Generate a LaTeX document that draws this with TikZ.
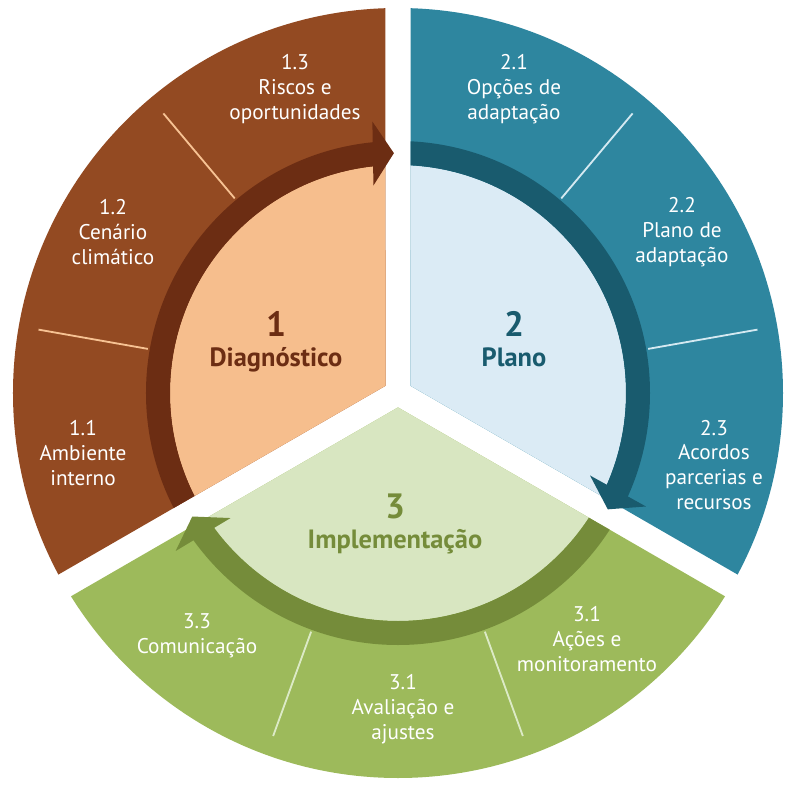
\documentclass[tikz,border=0pt]{standalone}
\usepackage{fontspec}
\setmainfont{PT Sans}
\usetikzlibrary{calc}

\definecolor{brownout}{HTML}{934A22}
\definecolor{brownband}{HTML}{6C2D13}
\definecolor{brownin}{HTML}{F6BE8D}
\definecolor{brownline}{HTML}{F7C293}
\definecolor{tealout}{HTML}{2E869F}
\definecolor{tealband}{HTML}{195B6E}
\definecolor{tealin}{HTML}{DBEBF5}
\definecolor{tealline}{HTML}{D4E9F1}
\definecolor{greenout}{HTML}{9DBA5B}
\definecolor{greenband}{HTML}{758C3A}
\definecolor{greenin}{HTML}{D8E6C1}
\definecolor{greenline}{HTML}{DCEAC6}

% wedge between two rays, pulled in by half the gap
\newcommand{\sectorclip}[2]{\clip ({(#1+#2)/2}:14.4) -- ({#1+1.8}:400)
    arc[start angle={#1+1.8}, end angle={#2-1.8}, radius=400] -- cycle;}

\begin{document}
\begin{tikzpicture}[scale=0.025,
    sublabel/.style={text=white, align=center, font=\fontsize{15.1}{17.7}\selectfont},
    stepname/.style={anchor=base, font=\bfseries\fontsize{18.8}{21}\selectfont},
    stepnum/.style={anchor=base, font=\bfseries\fontsize{25}{28}\selectfont}]
    \useasboundingbox (-398,-407) rectangle (402,393);

    % 1 diagnostico
    \begin{scope}
        \sectorclip{90}{210}
        \fill[brownout] (0,0) circle (385);
        \fill[brownin] (0,0) circle (228);
        \fill[brownband, even odd rule] (0,0) circle (252) circle (228);
    \end{scope}
    \fill[brownband, rotate=91] (240,0) -- (272,21) -- (208,21) -- cycle;
    \foreach \a in {130,170}
        \draw[brownline, line width=1.3pt] (\a:254) -- (\a:365);

    % 2 plano
    \begin{scope}
        \sectorclip{-30}{90}
        \fill[tealout] (0,0) circle (385);
        \fill[tealin] (0,0) circle (228);
        \fill[tealband, even odd rule] (0,0) circle (252) circle (228);
    \end{scope}
    \fill[tealband, rotate=-29] (240,0) -- (272,21) -- (208,21) -- cycle;
    \foreach \a in {50,10}
        \draw[tealline, line width=1.3pt] (\a:254) -- (\a:365);

    % 3 implementacao
    \begin{scope}
        \sectorclip{210}{330}
        \fill[greenout] (0,0) circle (385);
        \fill[greenin] (0,0) circle (228);
        \fill[greenband, even odd rule] (0,0) circle (252) circle (228);
    \end{scope}
    \fill[greenband, rotate=-149] (240,0) -- (272,21) -- (208,21) -- cycle;
    \foreach \a in {-70,-110}
        \draw[greenline, line width=1.3pt] (\a:254) -- (\a:365);

    % step names
    \node[stepnum, text=brownband] (n1) at (-122,57) {1};
    \node[stepname, text=brownband] (t1) at (-122,27) {Diagnóstico};
    \node[stepnum, text=tealband] (n2) at (116,57) {2};
    \node[stepname, text=tealband] (t2) at (116,27) {Plano};
    \node[stepnum, text=greenband] (n3) at (-3,-125) {3};
    \node[stepname, text=greenband] (t3) at (-3,-155) {Implementação};

    % sub steps
    \node[sublabel] (l11) at (-315,-60) {1.1\\Ambiente\\interno};
    \node[sublabel] (l12) at (-285,161) {1.2\\Cenário\\climático};
    \node[sublabel] (l13) at (-103,304) {1.3\\Riscos e\\oportunidades};
    \node[sublabel] (l21) at (116,304) {2.1\\Opções de\\adaptação};
    \node[sublabel] (l22) at (284,161) {2.2\\Plano de\\adaptação};
    \node[sublabel] (l23) at (316,-72) {2.3\\Acordos\\parcerias e\\recursos};
    \node[sublabel] (l31) at (189,-246) {3.1\\Ações e\\monitoramento};
    \node[sublabel] (l32) at (5,-316) {3.1\\Avaliação e\\ajustes};
    \node[sublabel] (l33) at (-201,-243) {3.3\\Comunicação};
\end{tikzpicture}
\end{document}
